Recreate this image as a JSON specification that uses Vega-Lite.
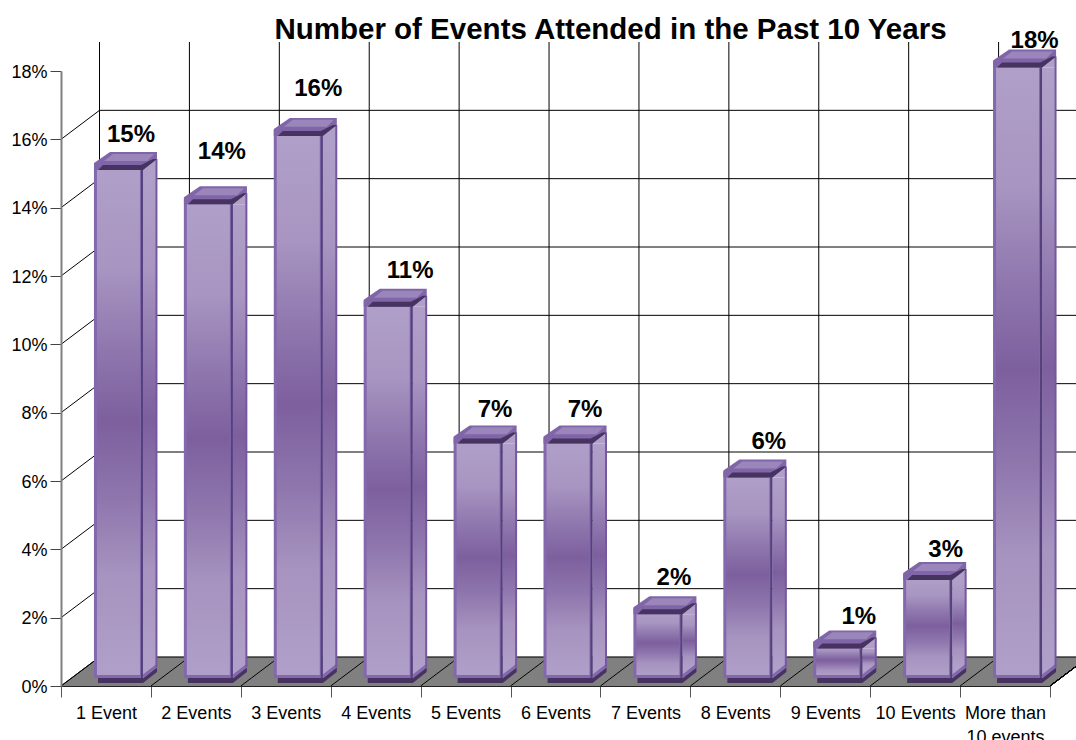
{
  "$schema": "https://vega.github.io/schema/vega-lite/v6.json",
  "autosize": "none",
  "padding": {"left": 61, "top": 71, "right": 26, "bottom": 54},
  "width": 989,
  "height": 615,
  "background": "white",
  "title": {"text": "Number of Events Attended in the Past 10 Years", "font": "Liberation Sans", "fontSize": 29.5, "fontWeight": "bold", "color": "black", "anchor": "middle", "dx": 55, "offset": -16},
  "config": {"view": {"stroke": null}},
  "data": {"values": [
    {"category": "1 Event", "share": 0.15},
    {"category": "2 Events", "share": 0.14},
    {"category": "3 Events", "share": 0.16},
    {"category": "4 Events", "share": 0.11},
    {"category": "5 Events", "share": 0.07},
    {"category": "6 Events", "share": 0.07},
    {"category": "7 Events", "share": 0.02},
    {"category": "8 Events", "share": 0.06},
    {"category": "9 Events", "share": 0.01},
    {"category": "10 Events", "share": 0.03},
    {"category": "More than 10 events", "share": 0.18}
  ]},
  "encoding": {
    "x": {
      "field": "category", "type": "nominal", "bandPosition": 0,
      "scale": {"domain": ["1 Event", "2 Events", "3 Events", "4 Events", "5 Events", "6 Events", "7 Events", "8 Events", "9 Events", "10 Events", "More than 10 events"], "paddingInner": 0, "paddingOuter": 0},
      "axis": {"title": null, "labelAngle": 0, "tickBand": "extent", "tickSize": 11, "tickColor": "#555555", "domainColor": "#222222", "domainWidth": 1, "labelFont": "Liberation Sans", "labelFontSize": 18, "labelColor": "black", "labelPadding": 7, "labelLineHeight": 24, "labelOverlap": false, "labelBound": false, "labelFlush": false, "zindex": 1,
        "labelExpr": "datum.value === 'More than 10 events' ? ['More than', '10 events'] : datum.label"}
    },
    "y": {
      "field": "share", "type": "quantitative",
      "scale": {"domain": [0, 0.18], "nice": false},
      "axis": {"title": null, "values": [0, 0.02, 0.04, 0.06, 0.08, 0.1, 0.12, 0.14, 0.16, 0.18], "format": ".0%", "grid": false, "tickSize": 11, "tickColor": "#444444", "domainColor": "#808080", "domainWidth": 2, "labelFont": "Liberation Sans", "labelFontSize": 18, "labelColor": "black", "labelPadding": 3, "labelOffset": 1, "zindex": 1}
    }
  },
  "layer": [
    {
      "mark": {"type": "rule", "stroke": "black", "strokeWidth": 1, "xOffset": 38.5, "yOffset": -29, "y2Offset": -29},
      "encoding": {"y": {"datum": 0}, "y2": {"datum": 0.18}}
    },
    {
      "mark": {"type": "point", "shape": "M0 0L38.5 -29L128.4 -29L89.9 0Z", "size": 4, "filled": true, "fill": "#808080", "stroke": "#808080", "strokeWidth": 0.5, "opacity": 1},
      "encoding": {"y": {"datum": 0}}
    },
    {
      "mark": {"type": "point", "shape": "M0 0L38.5 -29", "size": 4, "filled": false, "stroke": "black", "strokeWidth": 1, "opacity": 1},
      "encoding": {"y": {"datum": 0}}
    },
    {
      "mark": {"type": "point", "shape": "M89.9 0L128.4 -29", "size": 4, "filled": false, "stroke": "black", "strokeWidth": 1, "opacity": 1},
      "encoding": {"x": {"datum": "More than 10 events", "bandPosition": 0}, "y": {"datum": 0}}
    },
    {
      "data": {"values": [{"level": 0}, {"level": 0.02}, {"level": 0.04}, {"level": 0.06}, {"level": 0.08}, {"level": 0.1}, {"level": 0.12}, {"level": 0.14}, {"level": 0.16}]},
      "mark": {"type": "point", "shape": "M0 0L38.5 -29L1027.5 -29", "size": 4, "filled": false, "stroke": "black", "strokeWidth": 1, "opacity": 1},
      "encoding": {"x": {"datum": "1 Event", "bandPosition": 0}, "y": {"field": "level", "type": "quantitative"}}
    },
    {
      "mark": {"type": "point", "shape": "M37 -8L82 -8L96 -19L96 -14L82 -3L37 -3Z", "size": 4, "filled": true, "fill": "#46335F", "strokeWidth": 0, "opacity": 1},
      "encoding": {"y": {"datum": 0}}
    },
    {
      "mark": {"type": "bar", "orient": "vertical", "width": 14, "xOffset": 44, "yOffset": -3.4, "y2Offset": -19,
        "fill": {"gradient": "linear", "x1": 0, "y1": 0, "x2": 0, "y2": 1, "stops": [{"offset": 0, "color": "#B0A0C9"}, {"offset": 0.2, "color": "#A895C1"}, {"offset": 0.35, "color": "#9079AF"}, {"offset": 0.5, "color": "#7D5F9E"}, {"offset": 0.65, "color": "#8E76AD"}, {"offset": 0.8, "color": "#A693BF"}, {"offset": 1, "color": "#B0A0C9"}]}},
      "encoding": {"y2": {"datum": 0}}
    },
    {
      "mark": {"type": "point", "shape": "M82 -3.4L96 -14.4L96 -3.4Z", "size": 4, "filled": true, "fill": "#B0A0C9", "strokeWidth": 0, "opacity": 1}
    },
    {
      "mark": {"type": "point", "shape": "M82 -8L96 -19L82 -19Z", "size": 4, "filled": true, "fill": "#B0A0C9", "strokeWidth": 0, "opacity": 1},
      "encoding": {"y": {"datum": 0}}
    },
    {
      "mark": {"type": "point", "shape": "M82 -9.5L96 -20.5", "size": 4, "filled": false, "stroke": "#8368AD", "strokeWidth": 3, "opacity": 1},
      "encoding": {"y": {"datum": 0}}
    },
    {
      "mark": {"type": "bar", "orient": "vertical", "width": 2, "xOffset": 50.5, "yOffset": -14.4, "y2Offset": -19, "fill": "#7558A0"},
      "encoding": {"y2": {"datum": 0}}
    },
    {
      "mark": {"type": "bar", "orient": "vertical", "width": 46, "xOffset": 12.5, "yOffset": -8, "y2Offset": -9.5, "stroke": "#8368AD", "strokeWidth": 3,
        "fill": {"gradient": "linear", "x1": 0, "y1": 0, "x2": 0, "y2": 1, "stops": [{"offset": 0, "color": "#B0A0C9"}, {"offset": 0.2, "color": "#A895C1"}, {"offset": 0.35, "color": "#9079AF"}, {"offset": 0.5, "color": "#7D5F9E"}, {"offset": 0.65, "color": "#8E76AD"}, {"offset": 0.8, "color": "#A693BF"}, {"offset": 1, "color": "#B0A0C9"}]}},
      "encoding": {"y2": {"datum": 0}}
    },
    {
      "mark": {"type": "bar", "orient": "vertical", "width": 2, "xOffset": 36, "yOffset": -4, "y2Offset": -8, "fill": "#54407A"},
      "encoding": {"y2": {"datum": 0}}
    },
    {
      "mark": {"type": "point", "shape": "M33 -10.4L49 -21.4L96 -21.4L96 -14.4L82 -3.4L33 -3.4Z", "size": 4, "filled": true, "fill": "#8165A9", "strokeWidth": 0, "opacity": 1}
    },
    {
      "mark": {"type": "point", "shape": "M43 -12.5L52 -19.5L93 -19.5L86 -12.5Z", "size": 4, "filled": true, "fill": "#9A86BA", "strokeWidth": 0, "opacity": 1}
    },
    {
      "mark": {"type": "point", "shape": "M37 -3.4L42 -8.4L80 -8.4L92 -14.4L96 -14.4L82 -3.4Z", "size": 4, "filled": true, "fill": "#46335F", "strokeWidth": 0, "opacity": 1}
    },
    {
      "transform": [{"filter": "datum.category === '1 Event'"}],
      "mark": {"type": "text", "font": "Liberation Sans", "fontSize": 24, "fontWeight": "bold", "color": "black", "align": "center", "baseline": "alphabetic", "dx": 25, "dy": -32},
      "encoding": {"x": {"field": "category", "type": "nominal", "bandPosition": 0.5}, "text": {"field": "share", "format": ".0%"}}
    },
    {
      "transform": [{"filter": "datum.category === '2 Events'"}],
      "mark": {"type": "text", "font": "Liberation Sans", "fontSize": 24, "fontWeight": "bold", "color": "black", "align": "center", "baseline": "alphabetic", "dx": 26, "dy": -49},
      "encoding": {"x": {"field": "category", "type": "nominal", "bandPosition": 0.5}, "text": {"field": "share", "format": ".0%"}}
    },
    {
      "transform": [{"filter": "datum.category === '3 Events'"}],
      "mark": {"type": "text", "font": "Liberation Sans", "fontSize": 24, "fontWeight": "bold", "color": "black", "align": "center", "baseline": "alphabetic", "dx": 32.5, "dy": -43},
      "encoding": {"x": {"field": "category", "type": "nominal", "bandPosition": 0.5}, "text": {"field": "share", "format": ".0%"}}
    },
    {
      "transform": [{"filter": "datum.category === '4 Events'"}],
      "mark": {"type": "text", "font": "Liberation Sans", "fontSize": 24, "fontWeight": "bold", "color": "black", "align": "center", "baseline": "alphabetic", "dx": 34.5, "dy": -32},
      "encoding": {"x": {"field": "category", "type": "nominal", "bandPosition": 0.5}, "text": {"field": "share", "format": ".0%"}}
    },
    {
      "transform": [{"filter": "datum.category === '5 Events' || datum.category === '6 Events'"}],
      "mark": {"type": "text", "font": "Liberation Sans", "fontSize": 24, "fontWeight": "bold", "color": "black", "align": "center", "baseline": "alphabetic", "dx": 29.5, "dy": -30},
      "encoding": {"x": {"field": "category", "type": "nominal", "bandPosition": 0.5}, "text": {"field": "share", "format": ".0%"}}
    },
    {
      "transform": [{"filter": "datum.category === '7 Events'"}],
      "mark": {"type": "text", "font": "Liberation Sans", "fontSize": 24, "fontWeight": "bold", "color": "black", "align": "center", "baseline": "alphabetic", "dx": 28.5, "dy": -33},
      "encoding": {"x": {"field": "category", "type": "nominal", "bandPosition": 0.5}, "text": {"field": "share", "format": ".0%"}}
    },
    {
      "transform": [{"filter": "datum.category === '8 Events'"}],
      "mark": {"type": "text", "font": "Liberation Sans", "fontSize": 24, "fontWeight": "bold", "color": "black", "align": "center", "baseline": "alphabetic", "dx": 33.5, "dy": -32},
      "encoding": {"x": {"field": "category", "type": "nominal", "bandPosition": 0.5}, "text": {"field": "share", "format": ".0%"}}
    },
    {
      "transform": [{"filter": "datum.category === '9 Events'"}],
      "mark": {"type": "text", "font": "Liberation Sans", "fontSize": 24, "fontWeight": "bold", "color": "black", "align": "center", "baseline": "alphabetic", "dx": 33.5, "dy": -28},
      "encoding": {"x": {"field": "category", "type": "nominal", "bandPosition": 0.5}, "text": {"field": "share", "format": ".0%"}}
    },
    {
      "transform": [{"filter": "datum.category === '10 Events'"}],
      "mark": {"type": "text", "font": "Liberation Sans", "fontSize": 24, "fontWeight": "bold", "color": "black", "align": "center", "baseline": "alphabetic", "dx": 30.5, "dy": -27},
      "encoding": {"x": {"field": "category", "type": "nominal", "bandPosition": 0.5}, "text": {"field": "share", "format": ".0%"}}
    },
    {
      "transform": [{"filter": "datum.category === 'More than 10 events'"}],
      "mark": {"type": "text", "font": "Liberation Sans", "fontSize": 24, "fontWeight": "bold", "color": "black", "align": "center", "baseline": "alphabetic", "dx": 29.5, "dy": -23},
      "encoding": {"x": {"field": "category", "type": "nominal", "bandPosition": 0.5}, "text": {"field": "share", "format": ".0%"}}
    }
  ]
}
